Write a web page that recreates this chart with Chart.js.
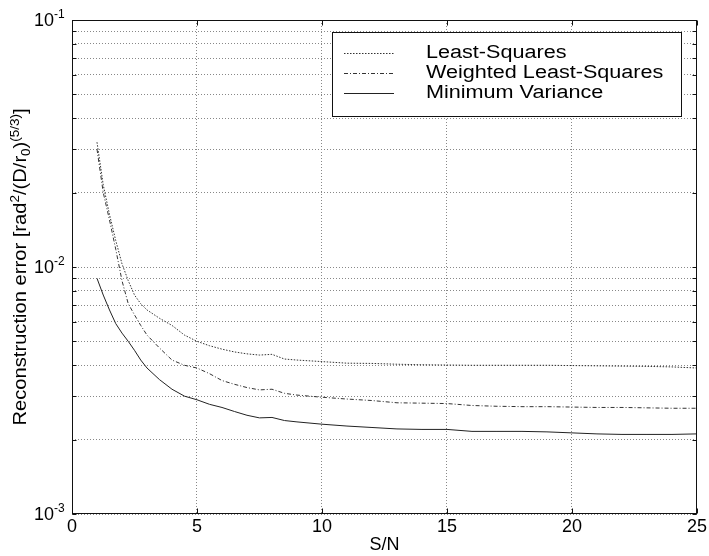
<!DOCTYPE html>
<html>
<head>
<meta charset="utf-8">
<script src="https://cdn.jsdelivr.net/npm/chart.js@4.4.1/dist/chart.umd.min.js"></script>
<style>
html,body{margin:0;padding:0;background:#fff;}
#wrap{width:709px;height:556px;position:relative;}
</style>
</head>
<body>
<div id="wrap"><canvas id="c" width="709" height="556"></canvas></div>
<script>
// ---- data ----
const snr = [1,1.25,1.5,1.75,2,2.25,2.5,2.75,3,3.5,4,4.5,5,5.5,6,6.5,7,7.5,8,8.5,9,10,11,12,13,14,15,16,17,18,19,20,21,22,23,24,25];
const leastSquares = [0.032,0.0215,0.0163,0.0128,0.0103,0.0088,0.0077,0.0071,0.0067,0.0062,0.0058,0.0053,0.0050,0.0048,0.00465,0.00453,0.00445,0.0044,0.00443,0.00424,0.0042,0.00414,0.00408,0.00407,0.00404,0.00402,0.00401,0.0040,0.0040,0.0040,0.0040,0.00399,0.00398,0.00397,0.00396,0.00394,0.0039];
const weightedLeastSquares = [0.030,0.020,0.0155,0.0118,0.0088,0.0071,0.0064,0.0058,0.0053,0.0047,0.0042,0.0040,0.0039,0.0037,0.00347,0.00335,0.00325,0.00318,0.0032,0.00308,0.00303,0.00297,0.00292,0.00288,0.00282,0.00281,0.0028,0.00275,0.00273,0.00272,0.00272,0.00271,0.0027,0.0027,0.00269,0.00268,0.00268];
const minimumVariance = [0.009,0.0077,0.0067,0.0059,0.0054,0.0050,0.0046,0.0042,0.0039,0.0035,0.0032,0.0030,0.0029,0.00278,0.0027,0.0026,0.00251,0.00245,0.00246,0.00239,0.00236,0.00231,0.00227,0.00224,0.00221,0.0022,0.0022,0.00216,0.00216,0.00216,0.00215,0.00213,0.00211,0.0021,0.0021,0.0021,0.00211];
const seriesNames = ['Least-Squares','Weighted Least-Squares','Minimum Variance'];
const xTickValues = [0,5,10,15,20,25];
const yGridValues = [0.001,0.002,0.003,0.004,0.005,0.006,0.007,0.008,0.009,0.01,0.02,0.03,0.04,0.05,0.06,0.07,0.08,0.09,0.1];
const yDecadeExponents = [-3,-2,-1];
const xTitle = 'S/N';

const FONT = '"Liberation Sans", Arial, Helvetica, sans-serif';
const lineColor = '#222';

function toPoints(ys){ return snr.map((x,i)=>({x:x,y:ys[i]})); }

const datasets = [
  {label:seriesNames[0], data:toPoints(leastSquares), borderColor:'#333', borderWidth:1, borderDash:[1.5,1.5], pointRadius:0, tension:0, fill:false},
  {label:seriesNames[1], data:toPoints(weightedLeastSquares), borderColor:'#333', borderWidth:1, borderDash:[4,2,1,2], pointRadius:0, tension:0, fill:false},
  {label:seriesNames[2], data:toPoints(minimumVariance), borderColor:lineColor, borderWidth:1, pointRadius:0, tension:0, fill:false}
];

function drawStretched(ctx, text, x, y, sx){
  ctx.save(); ctx.translate(x,y); ctx.scale(sx,1); ctx.fillText(text,0,0); ctx.restore();
}

const decor = {
  id:'decor',
  afterDraw(chart){
    const ctx = chart.ctx, a = chart.chartArea;
    const xs = chart.scales.x, ys = chart.scales.y;
    ctx.save();
    // frame
    ctx.strokeStyle = '#111'; ctx.lineWidth = 1; ctx.setLineDash([]);
    const L = Math.round(a.left)+0.5, R = Math.round(a.right)-0.5, T = Math.round(a.top)+0.5, B = Math.round(a.bottom)-0.5;
    ctx.strokeRect(L, T, R-L, B-T);
    // inner ticks
    ctx.beginPath();
    yGridValues.forEach(v=>{
      const y = Math.round(ys.getPixelForValue(v))+0.5;
      ctx.moveTo(L,y); ctx.lineTo(L+4,y);
      ctx.moveTo(R,y); ctx.lineTo(R-4,y);
    });
    xTickValues.forEach(v=>{
      const x = Math.round(xs.getPixelForValue(v))+0.5;
      ctx.moveTo(x,B); ctx.lineTo(x,B-5);
      ctx.moveTo(x,T); ctx.lineTo(x,T+5);
    });
    ctx.stroke();
    // y tick labels 10^n
    ctx.fillStyle = '#000';
    yDecadeExponents.forEach(e=>{
      const y = ys.getPixelForValue(Math.pow(10,e));
      ctx.font = '18px '+FONT; ctx.textAlign='right'; ctx.textBaseline='middle';
      ctx.fillText('10', 54, y+1);
      ctx.font = '12px '+FONT; ctx.textAlign='left'; ctx.textBaseline='alphabetic';
      ctx.fillText('-'+Math.abs(e), 54, y-2);
    });
    // y title with super/subscripts
    const parts = [
      {t:'Reconstruction error [rad', s:18, dy:0},
      {t:'2', s:12, dy:-7},
      {t:'/(D/r', s:18, dy:0},
      {t:'0', s:12, dy:4},
      {t:')', s:18, dy:0},
      {t:'(5/3)', s:12, dy:-7},
      {t:']', s:18, dy:0}
    ];
    const sx = 1.12;
    let total = 0;
    parts.forEach(p=>{ ctx.font = p.s+'px '+FONT; p.w = ctx.measureText(p.t).width*sx; total += p.w; });
    ctx.save();
    ctx.translate(26, (a.top+a.bottom)/2);
    ctx.rotate(-Math.PI/2);
    ctx.textAlign='left'; ctx.textBaseline='alphabetic';
    let cx = -total/2;
    parts.forEach(p=>{ ctx.font = p.s+'px '+FONT; drawStretched(ctx, p.t, cx, p.dy, sx); cx += p.w; });
    ctx.restore();
    // legend
    ctx.fillStyle = '#fff';
    ctx.fillRect(332, 32, 349, 84);
    ctx.strokeStyle = '#111'; ctx.lineWidth = 1;
    ctx.strokeRect(332.5, 32.5, 349, 84);
    const rowsY = [53.5, 73.5, 93.5];
    datasets.forEach((d,i)=>{
      ctx.strokeStyle = d.borderColor; ctx.setLineDash(d.borderDash||[]);
      ctx.beginPath(); ctx.moveTo(344, rowsY[i]); ctx.lineTo(394, rowsY[i]); ctx.stroke();
      ctx.setLineDash([]);
      ctx.fillStyle = '#000'; ctx.font = '18px '+FONT; ctx.textAlign='left'; ctx.textBaseline='middle';
      drawStretched(ctx, d.label, 426, rowsY[i], 1.2);
    });
    ctx.restore();
  }
};

new Chart(document.getElementById('c'), {
  type:'line',
  data:{datasets:datasets},
  options:{
    responsive:false, animation:false,
    layout:{padding:{left:0, right:12, top:20, bottom:0}},
    plugins:{legend:{display:false}, tooltip:{enabled:false}},
    scales:{
      x:{
        type:'linear', min:0, max:25,
        afterFit(s){ s.height = 42; },
        afterBuildTicks(s){ s.ticks = xTickValues.map(v=>({value:v})); },
        ticks:{font:{family:FONT, size:18}, color:'#000', padding:2, maxRotation:0, autoSkip:false},
        grid:{color:'#888', lineWidth:1, drawTicks:false},
        border:{display:false, dash:[1,2]},
        title:{display:true, text:xTitle, color:'#000', font:{family:FONT, size:18}, padding:{top:0,bottom:0}}
      },
      y:{
        type:'logarithmic', min:0.001, max:0.1,
        afterFit(s){ s.width = 72; },
        afterBuildTicks(s){ s.ticks = yGridValues.map(v=>({value:v})); },
        ticks:{display:false},
        grid:{color:'#888', lineWidth:1, drawTicks:false},
        border:{display:false, dash:[1,2]}
      }
    }
  },
  plugins:[decor]
});
</script>
</body>
</html>
